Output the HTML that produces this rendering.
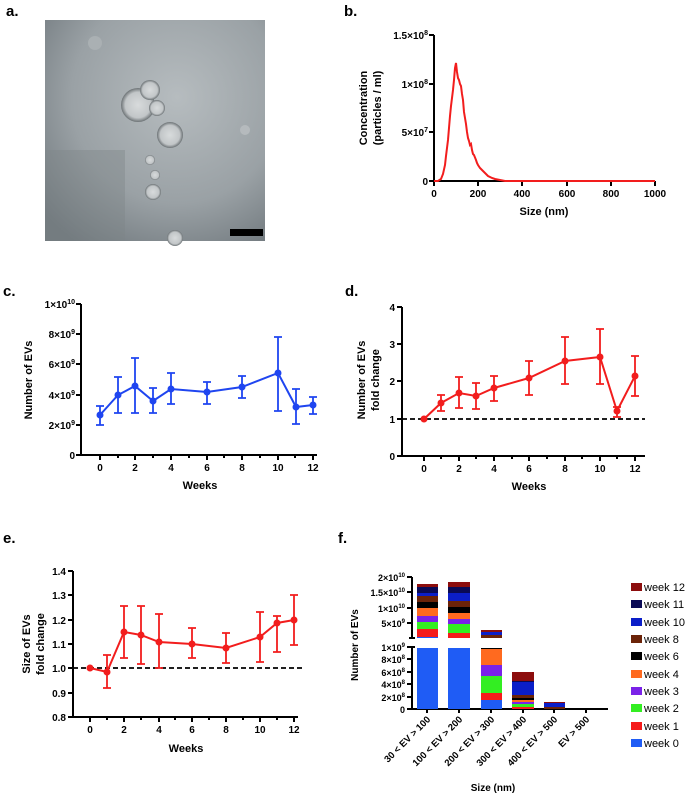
<!DOCTYPE html>
<html><head><meta charset="utf-8"><style>
body{margin:0;background:#fff}
svg{display:block}
text{font-family:"Liberation Sans",Arial,sans-serif;font-weight:bold;fill:#000}
.t{font-size:10px}
.l{font-size:11px}
.p{font-size:15px}
.lg text{font-weight:normal;font-size:11px}
</style></head><body>
<svg width="685" height="794" viewBox="0 0 685 794" xmlns="http://www.w3.org/2000/svg">
<defs>
<radialGradient id="bg" cx="0.6" cy="0.35" r="0.8"><stop offset="0" stop-color="#b6bcbf"/><stop offset="0.6" stop-color="#9aa1a5"/><stop offset="1" stop-color="#6f777c"/></radialGradient>
<radialGradient id="ves" cx="0.5" cy="0.5" r="0.5"><stop offset="0" stop-color="#d8dbdc"/><stop offset="0.75" stop-color="#c2c6c8"/><stop offset="1" stop-color="#6c7275"/></radialGradient>
</defs>
<text x="6" y="16" class="p">a.</text>
<text x="344" y="16" class="p">b.</text>
<text x="3" y="296" class="p">c.</text>
<text x="345" y="296" class="p">d.</text>
<text x="3" y="543" class="p">e.</text>
<text x="338" y="543" class="p">f.</text>

<!-- a -->
<rect x="45" y="20" width="220" height="221" fill="url(#bg)"/>
<rect x="45" y="150" width="80" height="91" fill="#7c8488" opacity="0.4"/>
<circle cx="138" cy="105" r="17" fill="url(#ves)"/>
<circle cx="150" cy="90" r="10" fill="url(#ves)"/>
<circle cx="157" cy="108" r="8" fill="url(#ves)"/>
<circle cx="170" cy="135" r="13" fill="url(#ves)"/>
<circle cx="150" cy="160" r="5" fill="url(#ves)"/>
<circle cx="155" cy="175" r="5" fill="url(#ves)"/>
<circle cx="153" cy="192" r="8" fill="url(#ves)"/>
<circle cx="175" cy="238" r="8" fill="url(#ves)"/>
<circle cx="95" cy="43" r="7" fill="#aab0b3"/>
<circle cx="245" cy="130" r="5" fill="#b5babd"/>
<rect x="230" y="229" width="33" height="7" fill="#000"/>

<!-- b -->
<g stroke="#000" stroke-width="2" fill="none">
<path d="M434,35V181H655"/>
<path d="M429,35h5M429,84h5M429,132h5M429,181h5"/>
<path d="M434,181v5M478,181v5M522,181v5M567,181v5M611,181v5M655,181v5"/>
</g>
<g class="t" text-anchor="end">
<text x="428" y="39">1.5×10<tspan font-size="7" dy="-4">8</tspan></text>
<text x="428" y="88">1×10<tspan font-size="7" dy="-4">8</tspan></text>
<text x="428" y="136">5×10<tspan font-size="7" dy="-4">7</tspan></text>
<text x="428" y="185">0</text>
</g>
<g class="t" text-anchor="middle">
<text x="434" y="197">0</text><text x="478" y="197">200</text><text x="522" y="197">400</text><text x="567" y="197">600</text><text x="611" y="197">800</text><text x="655" y="197">1000</text>
</g>
<text x="544" y="215" class="l" text-anchor="middle">Size (nm)</text>
<text transform="translate(367,108) rotate(-90)" class="l" text-anchor="middle">Concentration</text>
<text transform="translate(381,108) rotate(-90)" class="l" text-anchor="middle">(particles / ml)</text>
<polyline fill="none" stroke="#f21d1d" stroke-width="2" points="434,181 438,181 441,179 443,174 445,165 446,156 447,148 448,140 449,128 450,116 451,106 452,98 453,90 454,80 455,68 456,63 457,72 458,78 459,80 460,84 461,86 462,94 463,100 464,112 465,118 466,124 467,132 468,138 469,141 470,145 471,144 472,150 473,154 474,155 476,160 477,163 478,165 480,168 482,170 484,172 486,174 488,176 490,177 492,178 495,179 500,180 505,181 511,181 655,181"/>

<!-- c -->
<g stroke="#000" stroke-width="2" fill="none">
<path d="M81,304V455H317"/>
<path d="M76,304h5M76,334h5M76,364h5M76,395h5M76,425h5M76,455h5"/>
<path d="M100,455v5M135,455v5M171,455v5M207,455v5M242,455v5M278,455v5M313,455v5"/>
<path d="M118,455v3M153,455v3M189,455v3M224,455v3M260,455v3M295,455v3"/>
</g>
<g class="t" text-anchor="end">
<text x="75" y="308">1×10<tspan font-size="7" dy="-4">10</tspan></text>
<text x="75" y="338">8×10<tspan font-size="7" dy="-4">9</tspan></text>
<text x="75" y="368">6×10<tspan font-size="7" dy="-4">9</tspan></text>
<text x="75" y="399">4×10<tspan font-size="7" dy="-4">9</tspan></text>
<text x="75" y="429">2×10<tspan font-size="7" dy="-4">9</tspan></text>
<text x="75" y="459">0</text>
</g>
<g class="t" text-anchor="middle">
<text x="100" y="471">0</text><text x="135" y="471">2</text><text x="171" y="471">4</text><text x="207" y="471">6</text><text x="242" y="471">8</text><text x="278" y="471">10</text><text x="313" y="471">12</text>
</g>
<text x="200" y="489" class="l" text-anchor="middle">Weeks</text>
<text transform="translate(32,380) rotate(-90)" class="l" text-anchor="middle">Number of EVs</text>
<g stroke="#1f45f0" stroke-width="1.8" fill="none">
<path d="M100,425V406M96,425h8M96,406h8M118,413V377M114,413h8M114,377h8M135,413V358M131,413h8M131,358h8M153,413V388M149,413h8M149,388h8M171,404V373M167,404h8M167,373h8M207,404V382M203,404h8M203,382h8M242,398V376M238,398h8M238,376h8M278,411V337M274,411h8M274,337h8M296,424V389M292,424h8M292,389h8M313,414V397M309,414h8M309,397h8"/>
<polyline stroke-width="2" points="100,415 118,395 135,386 153,401 171,389 207,392 242,387 278,373 296,407 313,405"/>
</g>
<g fill="#1f45f0"><circle cx="100" cy="415" r="3.5"/><circle cx="118" cy="395" r="3.5"/><circle cx="135" cy="386" r="3.5"/><circle cx="153" cy="401" r="3.5"/><circle cx="171" cy="389" r="3.5"/><circle cx="207" cy="392" r="3.5"/><circle cx="242" cy="387" r="3.5"/><circle cx="278" cy="373" r="3.5"/><circle cx="296" cy="407" r="3.5"/><circle cx="313" cy="405" r="3.5"/></g>

<!-- d -->
<g stroke="#000" stroke-width="2" fill="none">
<path d="M402,307V456H645"/>
<path d="M397,307h5M397,344h5M397,381h5M397,419h5M397,456h5"/>
<path d="M424,456v5M459,456v5M494,456v5M529,456v5M565,456v5M600,456v5M635,456v5"/>
<path d="M441,456v3M476,456v3M512,456v3M547,456v3M582,456v3M617,456v3"/>
</g>
<path d="M402,419H645" stroke="#000" stroke-width="1.8" stroke-dasharray="5,3"/>
<g class="t" text-anchor="end">
<text x="395" y="311">4</text><text x="395" y="348">3</text><text x="395" y="385">2</text><text x="395" y="423">1</text><text x="395" y="460">0</text>
</g>
<g class="t" text-anchor="middle">
<text x="424" y="472">0</text><text x="459" y="472">2</text><text x="494" y="472">4</text><text x="529" y="472">6</text><text x="565" y="472">8</text><text x="600" y="472">10</text><text x="635" y="472">12</text>
</g>
<text x="529" y="490" class="l" text-anchor="middle">Weeks</text>
<text transform="translate(365,380) rotate(-90)" class="l" text-anchor="middle">Number of EVs</text>
<text transform="translate(379,380) rotate(-90)" class="l" text-anchor="middle">fold change</text>
<g stroke="#f21d1d" stroke-width="1.8" fill="none">
<path d="M441,411V395M437,411h8M437,395h8M459,408V377M455,408h8M455,377h8M476,409V383M472,409h8M472,383h8M494,401V376M490,401h8M490,376h8M529,395V361M525,395h8M525,361h8M565,384V337M561,384h8M561,337h8M600,384V329M596,384h8M596,329h8M617,417V407M613,417h8M613,407h8M635,396V356M631,396h8M631,356h8"/>
<polyline stroke-width="2" points="424,419 441,403 459,393 476,396 494,388 529,378 565,361 600,357 617,411 635,376"/>
</g>
<g fill="#f21d1d"><circle cx="424" cy="419" r="3.5"/><circle cx="441" cy="403" r="3.5"/><circle cx="459" cy="393" r="3.5"/><circle cx="476" cy="396" r="3.5"/><circle cx="494" cy="388" r="3.5"/><circle cx="529" cy="378" r="3.5"/><circle cx="565" cy="361" r="3.5"/><circle cx="600" cy="357" r="3.5"/><circle cx="617" cy="411" r="3.5"/><circle cx="635" cy="376" r="3.5"/></g>

<!-- e -->
<g stroke="#000" stroke-width="2" fill="none">
<path d="M73,571V717H298"/>
<path d="M68,571h5M68,595h5M68,620h5M68,644h5M68,668h5M68,693h5M68,717h5"/>
<path d="M90,717v5M124,717v5M159,717v5M192,717v5M226,717v5M260,717v5M294,717v5"/>
<path d="M107,717v3M141,717v3M175,717v3M209,717v3M243,717v3M277,717v3"/>
</g>
<path d="M73,668H302" stroke="#000" stroke-width="1.8" stroke-dasharray="5,3"/>
<g class="t" text-anchor="end">
<text x="66" y="575">1.4</text><text x="66" y="599">1.3</text><text x="66" y="624">1.2</text><text x="66" y="648">1.1</text><text x="66" y="672">1.0</text><text x="66" y="697">0.9</text><text x="66" y="721">0.8</text>
</g>
<g class="t" text-anchor="middle">
<text x="90" y="733">0</text><text x="124" y="733">2</text><text x="159" y="733">4</text><text x="192" y="733">6</text><text x="226" y="733">8</text><text x="260" y="733">10</text><text x="294" y="733">12</text>
</g>
<text x="186" y="752" class="l" text-anchor="middle">Weeks</text>
<text transform="translate(30,644) rotate(-90)" class="l" text-anchor="middle">Size of EVs</text>
<text transform="translate(44,644) rotate(-90)" class="l" text-anchor="middle">fold change</text>
<g stroke="#f21d1d" stroke-width="1.8" fill="none">
<path d="M107,688V655M103,688h8M103,655h8M124,658V606M120,658h8M120,606h8M141,664V606M137,664h8M137,606h8M159,668V614M155,668h8M155,614h8M192,658V628M188,658h8M188,628h8M226,663V633M222,663h8M222,633h8M260,662V612M256,662h8M256,612h8M277,652V616M273,652h8M273,616h8M294,645V595M290,645h8M290,595h8"/>
<polyline stroke-width="2" points="90,668 107,672 124,632 141,635 159,642 192,644 226,648 260,637 277,623 294,620"/>
</g>
<g fill="#f21d1d"><circle cx="90" cy="668" r="3.5"/><circle cx="107" cy="672" r="3.5"/><circle cx="124" cy="632" r="3.5"/><circle cx="141" cy="635" r="3.5"/><circle cx="159" cy="642" r="3.5"/><circle cx="192" cy="644" r="3.5"/><circle cx="226" cy="648" r="3.5"/><circle cx="260" cy="637" r="3.5"/><circle cx="277" cy="623" r="3.5"/><circle cx="294" cy="620" r="3.5"/></g>

<!-- f -->
<g stroke="#000" stroke-width="2" fill="none">
<path d="M412,577V638M409,638h6"/>
<path d="M409,647h6M412,647V709H608"/>
<path d="M407,577h5M407,592h5M407,608h5M407,623h5"/>
<path d="M407,647h5M407,659h5M407,672h5M407,684h5M407,697h5M407,709h5"/>
<path d="M427,709v4M459,709v4M491,709v4M523,709v4M554,709v4M586,709v4"/>
</g>
<g style="font-size:9px" text-anchor="end">
<text x="405" y="581">2×10<tspan font-size="6" dy="-4">10</tspan></text>
<text x="405" y="596">1.5×10<tspan font-size="6" dy="-4">10</tspan></text>
<text x="405" y="612">1×10<tspan font-size="6" dy="-4">10</tspan></text>
<text x="405" y="627">5×10<tspan font-size="6" dy="-4">9</tspan></text>
<text x="405" y="651">1×10<tspan font-size="6" dy="-4">9</tspan></text>
<text x="405" y="663">8×10<tspan font-size="6" dy="-4">8</tspan></text>
<text x="405" y="676">6×10<tspan font-size="6" dy="-4">8</tspan></text>
<text x="405" y="688">4×10<tspan font-size="6" dy="-4">8</tspan></text>
<text x="405" y="701">2×10<tspan font-size="6" dy="-4">8</tspan></text>
<text x="405" y="713">0</text>
</g>
<text transform="translate(358,645) rotate(-90)" style="font-size:10px" text-anchor="middle">Number of EVs</text>
<rect x="417" y="648" width="21" height="61" fill="#1f5cf5"/>
<rect x="448" y="648" width="22" height="61" fill="#1f5cf5"/>
<rect x="481" y="648" width="21" height="1" fill="#000"/>
<rect x="481" y="649" width="21" height="16" fill="#ff6a1f"/>
<rect x="481" y="665" width="21" height="11" fill="#7a22e8"/>
<rect x="481" y="676" width="21" height="17" fill="#33ee22"/>
<rect x="481" y="693" width="21" height="7" fill="#f51b1b"/>
<rect x="481" y="700" width="21" height="9" fill="#1f5cf5"/>
<rect x="512" y="672" width="22" height="9" fill="#8c0d0d"/>
<rect x="512" y="681" width="22" height="1" fill="#0a0a55"/>
<rect x="512" y="682" width="22" height="13" fill="#0b1ec8"/>
<rect x="512" y="695" width="22" height="3" fill="#6b2308"/>
<rect x="512" y="698" width="22" height="2" fill="#000"/>
<rect x="512" y="700" width="22" height="2" fill="#ff6a1f"/>
<rect x="512" y="702" width="22" height="2" fill="#7a22e8"/>
<rect x="512" y="704" width="22" height="3" fill="#33ee22"/>
<rect x="512" y="707" width="22" height="2" fill="#f51b1b"/>
<rect x="544" y="702" width="21" height="1" fill="#8c0d0d"/>
<rect x="544" y="703" width="21" height="4" fill="#0b1ec8"/>
<rect x="544" y="707" width="21" height="2" fill="#6b2308"/>
<rect x="417" y="584" width="21" height="3" fill="#8c0d0d"/>
<rect x="417" y="587" width="21" height="6" fill="#0a0a55"/>
<rect x="417" y="593" width="21" height="3" fill="#0b1ec8"/>
<rect x="417" y="596" width="21" height="6" fill="#6b2308"/>
<rect x="417" y="602" width="21" height="6" fill="#000"/>
<rect x="417" y="608" width="21" height="8" fill="#ff6a1f"/>
<rect x="417" y="616" width="21" height="6" fill="#7a22e8"/>
<rect x="417" y="622" width="21" height="7" fill="#33ee22"/>
<rect x="417" y="629" width="21" height="8" fill="#f51b1b"/>
<rect x="417" y="637" width="21" height="1" fill="#1f5cf5"/>
<rect x="448" y="582" width="22" height="5" fill="#8c0d0d"/>
<rect x="448" y="587" width="22" height="6" fill="#0a0a55"/>
<rect x="448" y="593" width="22" height="8" fill="#0b1ec8"/>
<rect x="448" y="601" width="22" height="6" fill="#6b2308"/>
<rect x="448" y="607" width="22" height="6" fill="#000"/>
<rect x="448" y="613" width="22" height="6" fill="#ff6a1f"/>
<rect x="448" y="619" width="22" height="5" fill="#7a22e8"/>
<rect x="448" y="624" width="22" height="9" fill="#33ee22"/>
<rect x="448" y="633" width="22" height="5" fill="#f51b1b"/>
<rect x="481" y="630" width="21" height="2" fill="#8c0d0d"/>
<rect x="481" y="632" width="21" height="3" fill="#0b1ec8"/>
<rect x="481" y="635" width="21" height="3" fill="#6b2308"/>
<g style="font-size:9.5px" text-anchor="end">
<text transform="translate(431,720) rotate(-45)">30 &lt; EV &gt; 100</text>
<text transform="translate(463,720) rotate(-45)">100 &lt; EV &gt; 200</text>
<text transform="translate(495,720) rotate(-45)">200 &lt; EV &gt; 300</text>
<text transform="translate(527,720) rotate(-45)">300 &lt; EV &gt; 400</text>
<text transform="translate(558,720) rotate(-45)">400 &lt; EV &gt; 500</text>
<text transform="translate(590,720) rotate(-45)">EV &gt; 500</text>
</g>
<text x="493" y="791" style="font-size:10px" text-anchor="middle">Size (nm)</text>
<g class="lg">
<rect x="631" y="583" width="11" height="8" fill="#8c0d0d"/><text x="644" y="591">week 12</text>
<rect x="631" y="600" width="11" height="8" fill="#0a0a55"/><text x="644" y="608">week 11</text>
<rect x="631" y="618" width="11" height="8" fill="#0b1ec8"/><text x="644" y="626">week 10</text>
<rect x="631" y="635" width="11" height="8" fill="#6b2308"/><text x="644" y="643">week 8</text>
<rect x="631" y="652" width="11" height="8" fill="#000"/><text x="644" y="660">week 6</text>
<rect x="631" y="670" width="11" height="8" fill="#ff6a1f"/><text x="644" y="678">week 4</text>
<rect x="631" y="687" width="11" height="8" fill="#7a22e8"/><text x="644" y="695">week 3</text>
<rect x="631" y="704" width="11" height="8" fill="#33ee22"/><text x="644" y="712">week 2</text>
<rect x="631" y="722" width="11" height="8" fill="#f51b1b"/><text x="644" y="730">week 1</text>
<rect x="631" y="739" width="11" height="8" fill="#1f5cf5"/><text x="644" y="747">week 0</text>
</g>
</svg>
</body></html>
